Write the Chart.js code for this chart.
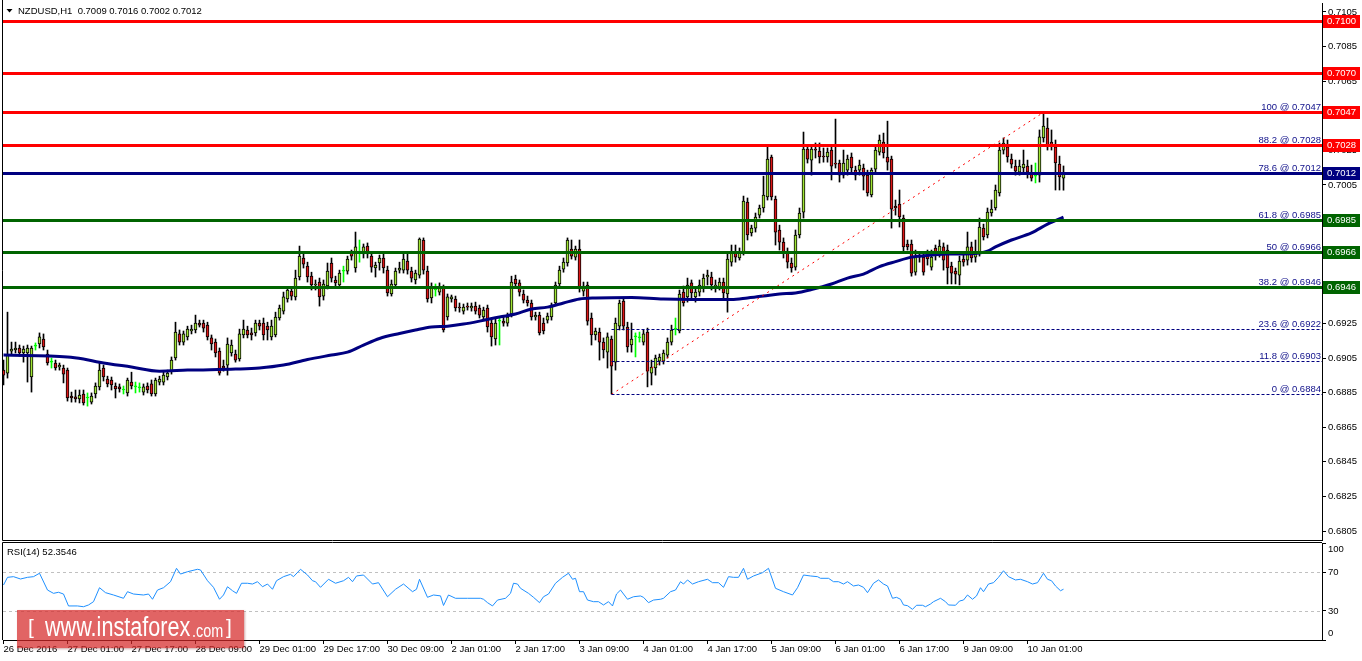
<!DOCTYPE html>
<html><head><meta charset="utf-8">
<script src="https://cdn.jsdelivr.net/npm/chart.js@4.4.1/dist/chart.umd.min.js"></script>
<style>
html,body{margin:0;padding:0;background:#fff;width:1362px;height:661px;overflow:hidden}
canvas{position:absolute;left:0}
#main{top:0}
#rsi{top:541px}
#wm{position:absolute;left:17px;top:610px;width:227px;height:38px;background:rgba(214,40,40,0.72);color:#fff;font-family:'Liberation Sans',Arial,sans-serif;white-space:nowrap;box-shadow:1px 1px 2px rgba(120,0,0,0.35)}
#wm span{position:absolute;display:block}
#wm .big{left:28px;top:4px;font-size:27px;line-height:27px;transform:scaleX(0.8);transform-origin:0 0}
#wm .small{left:175px;top:12px;font-size:18px;line-height:18px;transform:scaleX(0.8);transform-origin:0 0}
#wm .br{top:6px;font-size:21px;line-height:21px}
</style></head><body>
<canvas id="main" width="1362" height="541"></canvas>
<canvas id="rsi" width="1362" height="120"></canvas>
<div id="wm"><span class="br" style="left:11px">[</span><span class="big">www.instaforex</span><span class="small">.com</span><span class="br" style="left:209px">]</span></div>
<script>
// ---------------- DATA ----------------
const symbolName = 'NZDUSD,H1';
const timeLabels = ['26 Dec 2016','27 Dec 01:00','27 Dec 17:00','28 Dec 09:00','29 Dec 01:00','29 Dec 17:00','30 Dec 09:00','2 Jan 01:00','2 Jan 17:00','3 Jan 09:00','4 Jan 01:00','4 Jan 17:00','5 Jan 09:00','6 Jan 01:00','6 Jan 17:00','9 Jan 09:00','10 Jan 01:00'];
const timeLabelBars = [0,16,32,48,64,80,96,112,128,144,160,176,192,208,224,240,256];

const opens = [
0.68980,0.68963,0.69090,0.69096,0.69108,0.69079,0.69079,0.68940,0.69119,0.69131,
0.69160,0.69073,0.69026,0.69021,0.68998,0.68992,0.68980,0.68830,0.68825,0.68813,
0.68842,0.68819,0.68795,0.68842,0.68883,0.68992,0.68928,0.68923,0.68888,0.68883,
0.68865,0.68848,0.68911,0.68883,0.68877,0.68853,0.68888,0.68900,0.68842,0.68911,
0.68911,0.68940,0.68974,0.69050,0.69189,0.69142,0.69172,0.69206,0.69212,0.69252,
0.69252,0.69240,0.69166,0.69142,0.69090,0.69003,0.69009,0.69079,0.69073,0.69044,
0.69183,0.69212,0.69195,0.69195,0.69252,0.69252,0.69234,0.69172,0.69183,0.69281,
0.69321,0.69391,0.69437,0.69403,0.69518,0.69628,0.69581,0.69523,0.69472,0.69489,
0.69408,0.69466,0.69599,0.69501,0.69472,0.69552,0.69552,0.69657,0.69570,0.69662,
0.69651,0.69697,0.69639,0.69570,0.69599,0.69628,0.69558,0.69420,0.69472,0.69558,
0.69558,0.69610,0.69552,0.69501,0.69529,0.69732,0.69552,0.69397,0.69443,0.69431,
0.69455,0.69287,0.69391,0.69391,0.69344,0.69321,0.69350,0.69339,0.69350,0.69339,
0.69287,0.69339,0.69252,0.69160,0.69263,0.69263,0.69252,0.69304,0.69506,0.69484,
0.69420,0.69385,0.69368,0.69287,0.69298,0.69252,0.69269,0.69287,0.69368,0.69478,
0.69564,0.69599,0.69680,0.69633,0.69680,0.69437,0.69472,0.69281,0.69183,0.69200,
0.69142,0.69084,0.69160,0.69026,0.69234,0.69379,0.69229,0.69125,0.69172,0.69166,
0.69142,0.69200,0.68963,0.68992,0.69032,0.69032,0.69067,0.69142,0.69217,0.69206,
0.69431,0.69403,0.69484,0.69403,0.69431,0.69461,0.69518,0.69518,0.69461,0.69461,
0.69489,0.69420,0.69604,0.69657,0.69628,0.69662,0.69951,0.69773,0.69801,0.69876,
0.69917,0.69981,0.70212,0.69969,0.69790,0.69720,0.69657,0.69599,0.69575,0.69761,
0.69893,0.70258,0.70194,0.70258,0.70246,0.70217,0.70212,0.70252,0.70177,0.70177,
0.70107,0.70136,0.70212,0.70136,0.70136,0.70148,0.70107,0.69992,0.70142,0.70240,
0.70298,0.70212,0.70200,0.69928,0.69940,0.69859,0.69709,0.69709,0.69546,0.69645,
0.69633,0.69645,0.69575,0.69686,0.69662,0.69692,0.69674,0.69581,0.69552,0.69529,
0.69622,0.69616,0.69692,0.69633,0.69662,0.69801,0.69761,0.69888,0.69917,0.70004,
0.70252,0.70270,0.70200,0.70159,0.70124,0.70148,0.70159,0.70119,0.70101,0.70107,
0.70322,0.70379,0.70298,0.70270,0.70171,0.70090];

const highs = [
0.69038,0.69315,0.69142,0.69142,0.69125,0.69119,0.69125,0.69119,0.69137,0.69195,
0.69189,0.69096,0.69050,0.69038,0.69021,0.69009,0.68992,0.68853,0.68865,0.68865,
0.68865,0.68848,0.68848,0.68906,0.69026,0.69009,0.68945,0.68940,0.68906,0.68900,
0.68888,0.68934,0.68968,0.68911,0.68906,0.68900,0.68906,0.68923,0.68934,0.68945,
0.68968,0.68980,0.69056,0.69257,0.69212,0.69206,0.69234,0.69240,0.69298,0.69269,
0.69269,0.69257,0.69183,0.69160,0.69108,0.69038,0.69166,0.69154,0.69096,0.69217,
0.69269,0.69234,0.69223,0.69269,0.69269,0.69281,0.69257,0.69269,0.69315,0.69356,
0.69431,0.69461,0.69455,0.69558,0.69697,0.69662,0.69604,0.69546,0.69501,0.69512,
0.69501,0.69599,0.69628,0.69523,0.69558,0.69581,0.69639,0.69674,0.69778,0.69732,
0.69709,0.69715,0.69657,0.69604,0.69645,0.69657,0.69581,0.69501,0.69570,0.69604,
0.69651,0.69662,0.69575,0.69558,0.69744,0.69744,0.69581,0.69484,0.69478,0.69484,
0.69472,0.69420,0.69414,0.69408,0.69368,0.69362,0.69368,0.69368,0.69373,0.69356,
0.69344,0.69356,0.69269,0.69281,0.69281,0.69292,0.69310,0.69523,0.69529,0.69501,
0.69443,0.69408,0.69385,0.69315,0.69315,0.69281,0.69310,0.69368,0.69489,0.69581,
0.69628,0.69744,0.69732,0.69697,0.69732,0.69489,0.69489,0.69310,0.69223,0.69223,
0.69166,0.69195,0.69177,0.69281,0.69385,0.69397,0.69257,0.69252,0.69195,0.69200,
0.69212,0.69223,0.69038,0.69067,0.69073,0.69096,0.69166,0.69240,0.69281,0.69443,
0.69466,0.69512,0.69501,0.69455,0.69501,0.69535,0.69558,0.69546,0.69501,0.69512,
0.69512,0.69651,0.69703,0.69703,0.69686,0.69986,0.69975,0.69818,0.69888,0.69934,
0.70101,0.70270,0.70223,0.69986,0.69818,0.69744,0.69686,0.69628,0.69790,0.69917,
0.70356,0.70275,0.70275,0.70293,0.70293,0.70264,0.70264,0.70270,0.70431,0.70194,
0.70252,0.70223,0.70235,0.70159,0.70194,0.70171,0.70136,0.70148,0.70275,0.70339,
0.70350,0.70419,0.70217,0.69963,0.70021,0.69876,0.69732,0.69732,0.69674,0.69662,
0.69662,0.69674,0.69674,0.69703,0.69732,0.69715,0.69703,0.69604,0.69570,0.69639,
0.69645,0.69778,0.69720,0.69732,0.69859,0.69824,0.69917,0.69963,0.70050,0.70293,
0.70322,0.70310,0.70229,0.70194,0.70194,0.70252,0.70194,0.70165,0.70177,0.70368,
0.70460,0.70437,0.70368,0.70310,0.70217,0.70160];

const lows = [
0.68894,0.68934,0.69067,0.69079,0.69061,0.69026,0.68911,0.68853,0.69096,0.69108,
0.69096,0.69009,0.68992,0.68980,0.68980,0.68906,0.68801,0.68795,0.68795,0.68790,
0.68778,0.68772,0.68784,0.68819,0.68865,0.68917,0.68883,0.68865,0.68819,0.68853,
0.68842,0.68830,0.68871,0.68848,0.68853,0.68836,0.68848,0.68830,0.68830,0.68894,
0.68894,0.68923,0.68957,0.69038,0.69125,0.69125,0.69154,0.69189,0.69195,0.69229,
0.69200,0.69154,0.69096,0.69056,0.68951,0.68974,0.68951,0.69061,0.69026,0.69032,
0.69166,0.69166,0.69154,0.69177,0.69212,0.69154,0.69154,0.69154,0.69172,0.69269,
0.69304,0.69373,0.69385,0.69385,0.69501,0.69570,0.69489,0.69443,0.69443,0.69350,
0.69385,0.69449,0.69489,0.69466,0.69455,0.69489,0.69535,0.69616,0.69546,0.69604,
0.69628,0.69628,0.69546,0.69518,0.69558,0.69541,0.69408,0.69408,0.69455,0.69541,
0.69541,0.69535,0.69489,0.69478,0.69512,0.69535,0.69373,0.69368,0.69408,0.69414,
0.69200,0.69269,0.69373,0.69321,0.69315,0.69304,0.69327,0.69321,0.69304,0.69281,
0.69269,0.69200,0.69119,0.69125,0.69125,0.69234,0.69234,0.69287,0.69455,0.69408,
0.69368,0.69350,0.69269,0.69269,0.69183,0.69189,0.69252,0.69269,0.69356,0.69461,
0.69546,0.69581,0.69622,0.69616,0.69431,0.69408,0.69240,0.69125,0.69154,0.69038,
0.69050,0.68992,0.68842,0.68980,0.69212,0.69212,0.69084,0.69084,0.69056,0.69142,
0.69125,0.68883,0.68894,0.68951,0.69009,0.69015,0.69050,0.69125,0.69183,0.69195,
0.69350,0.69373,0.69385,0.69373,0.69408,0.69431,0.69472,0.69443,0.69431,0.69443,
0.69397,0.69315,0.69581,0.69604,0.69616,0.69645,0.69732,0.69755,0.69778,0.69859,
0.69893,0.69963,0.69963,0.69703,0.69674,0.69628,0.69570,0.69546,0.69558,0.69744,
0.69859,0.70177,0.70107,0.70206,0.70177,0.70182,0.70182,0.70079,0.70148,0.70067,
0.70090,0.70107,0.70124,0.70079,0.70107,0.70021,0.69986,0.69981,0.70124,0.70223,
0.70206,0.70136,0.69801,0.69876,0.69807,0.69662,0.69674,0.69523,0.69529,0.69604,
0.69529,0.69587,0.69558,0.69616,0.69633,0.69558,0.69478,0.69478,0.69478,0.69472,
0.69581,0.69587,0.69604,0.69604,0.69639,0.69732,0.69744,0.69870,0.69905,0.69986,
0.70229,0.70182,0.70148,0.70107,0.70107,0.70124,0.70090,0.70073,0.70062,0.70067,
0.70298,0.70252,0.70252,0.70021,0.70021,0.70020];

const closes = [
0.68951,0.69067,0.69102,0.69108,0.69079,0.69102,0.69108,0.69108,0.69119,0.69172,
0.69114,0.69021,0.69026,0.68992,0.69009,0.68957,0.68819,0.68819,0.68813,0.68836,
0.68790,0.68819,0.68830,0.68888,0.68980,0.68940,0.68900,0.68894,0.68871,0.68871,
0.68865,0.68923,0.68888,0.68883,0.68877,0.68883,0.68865,0.68842,0.68923,0.68928,
0.68951,0.68963,0.69038,0.69200,0.69142,0.69189,0.69217,0.69217,0.69252,0.69240,
0.69223,0.69172,0.69131,0.69079,0.68963,0.68992,0.69131,0.69125,0.69038,0.69189,
0.69217,0.69183,0.69183,0.69252,0.69234,0.69183,0.69212,0.69234,0.69287,0.69339,
0.69403,0.69443,0.69408,0.69512,0.69639,0.69593,0.69518,0.69472,0.69478,0.69403,
0.69478,0.69552,0.69512,0.69484,0.69541,0.69552,0.69622,0.69639,0.69692,0.69662,
0.69692,0.69651,0.69575,0.69587,0.69628,0.69570,0.69426,0.69478,0.69552,0.69570,
0.69622,0.69558,0.69512,0.69541,0.69738,0.69558,0.69391,0.69461,0.69443,0.69461,
0.69212,0.69403,0.69403,0.69339,0.69339,0.69344,0.69344,0.69350,0.69321,0.69298,
0.69327,0.69229,0.69172,0.69252,0.69263,0.69252,0.69287,0.69489,0.69478,0.69431,
0.69385,0.69368,0.69287,0.69298,0.69195,0.69206,0.69292,0.69350,0.69472,0.69558,
0.69604,0.69732,0.69639,0.69680,0.69455,0.69466,0.69263,0.69183,0.69206,0.69142,
0.69096,0.69172,0.69003,0.69252,0.69368,0.69234,0.69114,0.69160,0.69172,0.69166,
0.69189,0.68974,0.68998,0.69050,0.69056,0.69079,0.69142,0.69212,0.69217,0.69420,
0.69368,0.69472,0.69426,0.69431,0.69472,0.69512,0.69529,0.69472,0.69472,0.69489,
0.69426,0.69622,0.69657,0.69633,0.69662,0.69957,0.69761,0.69801,0.69865,0.69917,
0.69992,0.70200,0.69981,0.69778,0.69720,0.69657,0.69604,0.69570,0.69761,0.69888,
0.70258,0.70200,0.70258,0.70252,0.70212,0.70212,0.70240,0.70159,0.70171,0.70107,
0.70177,0.70200,0.70148,0.70107,0.70165,0.70101,0.70004,0.70136,0.70252,0.70310,
0.70235,0.70182,0.69911,0.69917,0.69865,0.69692,0.69692,0.69541,0.69639,0.69633,
0.69546,0.69622,0.69633,0.69657,0.69697,0.69616,0.69570,0.69541,0.69535,0.69610,
0.69604,0.69692,0.69628,0.69662,0.69807,0.69750,0.69893,0.69911,0.70021,0.70252,
0.70293,0.70212,0.70171,0.70130,0.70159,0.70171,0.70124,0.70090,0.70101,0.70328,
0.70390,0.70275,0.70281,0.70177,0.70096,0.70120];

// moving average, read at sample bars
const maBars = [0,16,20,24,32,39,46,58,64,70,76,82,86,90,94,99,103,107,111,115,119,124,128,132,136,140,144,148,157,165,182,186,190,194,198,202,207,211,215,219,223,227,232,236,240,244,246,248,252,257,261,265];
const maValues = [0.69067,0.69056,0.69044,0.69026,0.68998,0.68974,0.68980,0.68986,0.68992,0.69009,0.69041,0.69067,0.69084,0.69125,0.69163,0.69192,0.69212,0.69229,0.69234,0.69246,0.69263,0.69287,0.69304,0.69333,0.69344,0.69368,0.69391,0.69397,0.69400,0.69391,0.69388,0.69397,0.69408,0.69420,0.69426,0.69446,0.69478,0.69512,0.69535,0.69578,0.69607,0.69633,0.69645,0.69651,0.69651,0.69657,0.69668,0.69692,0.69732,0.69773,0.69824,0.69865];

// RSI(14), read at sample bars
const rsiBars = [0,1,2.5,4.25,6,7.5,9,11,12.5,13.75,15,16.25,18.5,20,21.25,22.5,24,25.5,27.5,30,31,32.5,35,36.25,37.25,38.5,40,41.75,43.25,44.25,46,48.5,49.25,51,52.5,54,55,56,57.25,58.25,59.5,61,62.25,63.5,64.75,66,67.25,68.25,70,71.75,72.5,74.25,76,77.25,78,79.25,81.25,83,85,86.25,87.25,88.25,90,92.25,93.75,96,98,100,102.25,103.25,104,106,107.5,109.25,110,111.25,113,116,119.25,120,121,122.25,123.5,125.5,126.75,127.5,128.5,129.25,131.25,132.5,134,135,136.25,138,139.75,141.25,142.25,143,144,145,146,147.5,148.75,150,151.25,152.25,153.25,154.25,156,157.5,159.25,160,161.25,162.5,164.25,165,166.75,168,169.25,170,171,172.25,173.75,176,177.25,178.75,180,181.25,182.5,183.75,185,186,187.5,189.75,191.25,193,195,197.25,198.5,200,201.75,203.5,204.25,206.25,207.5,208.75,210,211,212.5,213.75,215,216,217.5,218.75,220,221,222.25,223.25,224.25,225,226,227.25,228.25,229.75,230.5,231.75,232.5,234.25,235.5,236.25,238,239,240,241,242.25,243.25,244.25,245,246.25,247.5,248.75,250,251.25,253,254.25,256,257.25,258.5,260,261,262,263,264.25,265];
const rsiValues = [56.7,64.6,65.3,62.9,64.6,65.3,68.8,51.5,48.1,49.2,47.4,35.1,35.1,34.3,36.1,39.5,53.9,48.8,46.4,43,49.8,47.4,46.4,47.4,42,51.5,53.9,60.1,73.9,68,70.4,72.9,72.2,61.1,54.3,42,46.4,54.9,50.8,48.1,58.5,58.5,57.7,60.1,54.9,57.7,52.3,61.1,65.3,67.7,65.3,72.9,67,61.1,60.1,54.3,62.6,58.5,61.1,64.6,60.1,66,67,57.7,59.1,44.6,52.3,57.7,49.8,52.3,62.6,44,46.4,45.5,35.6,46.4,43,43,43,42,38.5,35.1,41.2,43,48.1,58.5,57.7,53.3,48.1,44,38.5,44.6,47.4,58.5,64.6,68.8,62.6,63.6,49.8,49.8,41.2,39.5,39.5,36.1,39.5,35.1,47.4,51.5,42,44.6,45.4,44,38.5,41.2,42,43,49.8,51.5,60.1,57.7,61.9,57.7,60.1,62.6,59.1,59.1,54.3,65.3,64.6,64.6,73.9,62.6,66,69.4,73.9,53.3,49.8,46.4,53.9,67,66,65.3,63.6,63.6,60.1,60.1,57.7,60.1,55.7,56.7,54.3,48.8,58.5,61.9,57.7,55.7,43,44,42,36.1,35.4,31.6,35.8,35.8,34.3,37.1,39.5,43,39.5,36.1,35.8,40.2,41.2,46.4,42,45.4,53.9,49.8,57.7,59.1,64.6,71.4,65.3,61.9,62.6,60.1,57.7,59.1,68.8,62.6,61.1,55.7,50.8,52.3546];
const rsiPeriod = 14;
const rsiLevels = [70, 30];
const rsiTicks = [0, 30, 70, 100];

const priceTicks = [0.6805,0.6825,0.6845,0.6865,0.6885,0.6905,0.6925,0.6945,0.6965,0.6985,0.7005,0.7025,0.7045,0.7065,0.7085,0.7105];
const levelPrices = [0.7100, 0.7070, 0.7047, 0.7028, 0.7012, 0.6985, 0.6966, 0.6946];
const fibRatios = [100, 88.2, 78.6, 61.8, 50, 38.2, 23.6, 11.8, 0];
const fibPrices = [0.7047, 0.7028, 0.7012, 0.6985, 0.6966, 0.6946, 0.6922, 0.6903, 0.6884];
const fibLowBar = 152, fibHighBar = 260;

// ---------------- STYLE ----------------
const FONT = "'Liberation Sans', Arial, sans-serif";
const FS = 9.5;
const levelColors = ['#ff0000','#ff0000','#ff0000','#ff0000','#000080','#006400','#006400','#006400'];
const BULL = '#9fe434', BEAR = '#dc1616', DOJI = '#00ff00';
const X_MIN = -0.125, X_MAX = X_MIN + 329.75;
Chart.defaults.font.family = FONT;
Chart.defaults.font.size = FS;
Chart.defaults.color = '#000';

const noPad = s => { s.paddingTop = 0; s.paddingBottom = 0; s.paddingLeft = 0; s.paddingRight = 0; };

const isDoji = i => opens[i] === closes[i];
const bodies = opens.map((o, i) => ({x: i, y: [o, closes[i]]}));
const wicks = opens.map((o, i) => ({x: i, y: [lows[i], highs[i]]}));
const last = opens.length - 1;

const mainDecor = {
  id: 'mainDecor',
  beforeDraw(chart) {
    const c = chart.ctx; c.save(); c.fillStyle = '#fff'; c.fillRect(0, 0, chart.width, chart.height); c.restore();
  },
  afterDatasetsDraw(chart) {
    const {ctx, chartArea: a, scales: {x, y}} = chart;
    ctx.save();
    const xs = x.getPixelForValue(fibLowBar);
    ctx.strokeStyle = '#000080'; ctx.lineWidth = 1; ctx.setLineDash([3, 2]);
    fibPrices.forEach(p => {
      const py = Math.round(y.getPixelForValue(p)) + 0.5;
      ctx.beginPath(); ctx.moveTo(xs, py); ctx.lineTo(a.right, py); ctx.stroke();
    });
    ctx.setLineDash([]);
    levelPrices.forEach((p, k) => {
      const py = Math.round(y.getPixelForValue(p)) + 0.5;
      ctx.strokeStyle = levelColors[k]; ctx.lineWidth = 3;
      ctx.beginPath(); ctx.moveTo(a.left, py); ctx.lineTo(a.right, py); ctx.stroke();
    });
    ctx.font = FS + 'px ' + FONT; ctx.fillStyle = '#10108a';
    ctx.textAlign = 'right'; ctx.textBaseline = 'alphabetic';
    fibPrices.forEach((p, k) => {
      const py = Math.round(y.getPixelForValue(p));
      ctx.fillText(fibRatios[k] + ' @ ' + p.toFixed(4), a.right - 1, py - 2);
    });
    ctx.strokeStyle = '#000'; ctx.lineWidth = 1;
    ctx.beginPath(); ctx.moveTo(2.5, 0); ctx.lineTo(2.5, a.bottom + 0.5); ctx.lineTo(a.right, a.bottom + 0.5); ctx.stroke();
    ctx.fillStyle = '#000';
    ctx.beginPath(); ctx.moveTo(6.5, 9); ctx.lineTo(12.5, 9); ctx.lineTo(9.5, 12.5); ctx.closePath(); ctx.fill();
    ctx.textAlign = 'left'; ctx.textBaseline = 'alphabetic';
    ctx.fillText(symbolName + '  ' + [opens[last], highs[last], lows[last], closes[last]].map(v => v.toFixed(4)).join(' '), 18, 14);
    levelPrices.forEach((p, k) => {
      const py = Math.round(y.getPixelForValue(p));
      ctx.fillStyle = levelColors[k];
      ctx.fillRect(a.right + 1, py - 6, 37, 13);
      ctx.fillStyle = '#fff'; ctx.textBaseline = 'middle';
      ctx.fillText(p.toFixed(4), a.right + 5, py + 0.5);
    });
    ctx.restore();
  }
};

new Chart(document.getElementById('main'), {
  type: 'bar',
  data: {
    datasets: [
      {type: 'line', data: [{x: fibLowBar, y: fibPrices[fibPrices.length - 1]}, {x: fibHighBar, y: fibPrices[0]}],
       borderColor: '#ff0000', borderWidth: 1, borderDash: [2, 4], pointRadius: 0, order: 0},
      {type: 'line', data: maBars.map((b, k) => ({x: b, y: maValues[k]})),
       borderColor: '#000080', borderWidth: 3, pointRadius: 0, cubicInterpolationMode: 'monotone', order: 1},
      {data: bodies, grouped: false, barThickness: 3, borderWidth: 1, borderSkipped: false, minBarLength: 1,
       backgroundColor: c => isDoji(c.dataIndex) ? DOJI : (closes[c.dataIndex] > opens[c.dataIndex] ? BULL : BEAR),
       borderColor: c => isDoji(c.dataIndex) ? DOJI : '#000', order: 2},
      {data: wicks, grouped: false, barThickness: 1, borderWidth: 0,
       backgroundColor: c => isDoji(c.dataIndex) ? DOJI : '#000', order: 3}
    ]
  },
  options: {
    responsive: false, animation: false, devicePixelRatio: 1, events: [],
    layout: {padding: {left: 3, top: 3, right: 0, bottom: 1}, autoPadding: false},
    plugins: {legend: {display: false}, tooltip: {enabled: false}},
    scales: {
      x: {type: 'linear', min: X_MIN, max: X_MAX, display: false, offset: false},
      y: {position: 'right', min: 0.67998, max: 0.71102, beginAtZero: false,
          afterBuildTicks: s => { s.ticks = priceTicks.map(v => ({value: v})); },
          afterFit: s => { s.width = 40; noPad(s); },
          ticks: {autoSkip: false, padding: 2, color: '#000', font: {size: FS}, callback: v => Number(v).toFixed(4)},
          grid: {drawOnChartArea: false, drawTicks: true, tickLength: 4, color: '#000'},
          border: {display: true, color: '#000', width: 1}}
    }
  },
  plugins: [mainDecor]
});

const rsiDecor = {
  id: 'rsiDecor',
  beforeDraw(chart) {
    const c = chart.ctx; c.save(); c.fillStyle = '#fff'; c.fillRect(0, 0, chart.width, chart.height); c.restore();
  },
  beforeDatasetsDraw(chart) {
    const {ctx, chartArea: a, scales: {y}} = chart;
    ctx.save();
    ctx.strokeStyle = '#c0c0c0'; ctx.lineWidth = 1; ctx.setLineDash([3, 3]);
    rsiLevels.forEach(v => {
      const py = Math.round(y.getPixelForValue(v)) + 0.5;
      ctx.beginPath(); ctx.moveTo(a.left, py); ctx.lineTo(a.right, py); ctx.stroke();
    });
    ctx.restore();
  },
  afterDatasetsDraw(chart) {
    const {ctx, chartArea: a, scales: {y}} = chart;
    ctx.save();
    ctx.strokeStyle = '#000'; ctx.lineWidth = 1;
    ctx.beginPath(); ctx.moveTo(a.right, a.top - 0.5); ctx.lineTo(2.5, a.top - 0.5); ctx.lineTo(2.5, a.bottom); ctx.stroke();
    ctx.font = FS + 'px ' + FONT; ctx.fillStyle = '#000'; ctx.textAlign = 'left'; ctx.textBaseline = 'middle';
    ctx.fillText('RSI(' + rsiPeriod + ') ' + rsiValues[rsiValues.length - 1].toFixed(4), 7, a.top + 9);
    ctx.fillText('100', a.right + 6, y.getPixelForValue(100) + 6);
    ctx.fillText('0', a.right + 6, y.getPixelForValue(0) - 7);
    ctx.restore();
  }
};

new Chart(document.getElementById('rsi'), {
  type: 'line',
  data: {datasets: [{data: rsiBars.map((b, k) => ({x: b, y: rsiValues[k]})), borderColor: '#1e90ff', borderWidth: 1, pointRadius: 0, tension: 0}]},
  options: {
    responsive: false, animation: false, devicePixelRatio: 1, events: [],
    layout: {padding: {left: 3, top: 2, right: 0, bottom: 0}, autoPadding: false},
    plugins: {legend: {display: false}, tooltip: {enabled: false}},
    scales: {
      x: {type: 'linear', min: X_MIN, max: X_MAX, offset: false,
          afterBuildTicks: s => { s.ticks = timeLabelBars.map(v => ({value: v})); },
          afterFit: s => { s.height = 21; noPad(s); },
          ticks: {autoSkip: false, maxRotation: 0, minRotation: 0, align: 'start', padding: 0, color: '#000', font: {size: FS},
                  callback: v => timeLabels[timeLabelBars.indexOf(v)]},
          grid: {drawOnChartArea: false, drawTicks: true, tickLength: 4, color: '#000'},
          border: {display: true, color: '#000', width: 1}},
      y: {position: 'right', min: 0, max: 100,
          afterBuildTicks: s => { s.ticks = rsiTicks.map(v => ({value: v})); },
          afterFit: s => { s.width = 40; noPad(s); },
          ticks: {autoSkip: false, padding: 2, color: '#000', font: {size: FS}, callback: v => (v === 0 || v === 100) ? '' : String(v)},
          grid: {drawOnChartArea: false, drawTicks: true, tickLength: 4, color: '#000'},
          border: {display: true, color: '#000', width: 1}}
    }
  },
  plugins: [rsiDecor]
});
</script>
</body></html>
